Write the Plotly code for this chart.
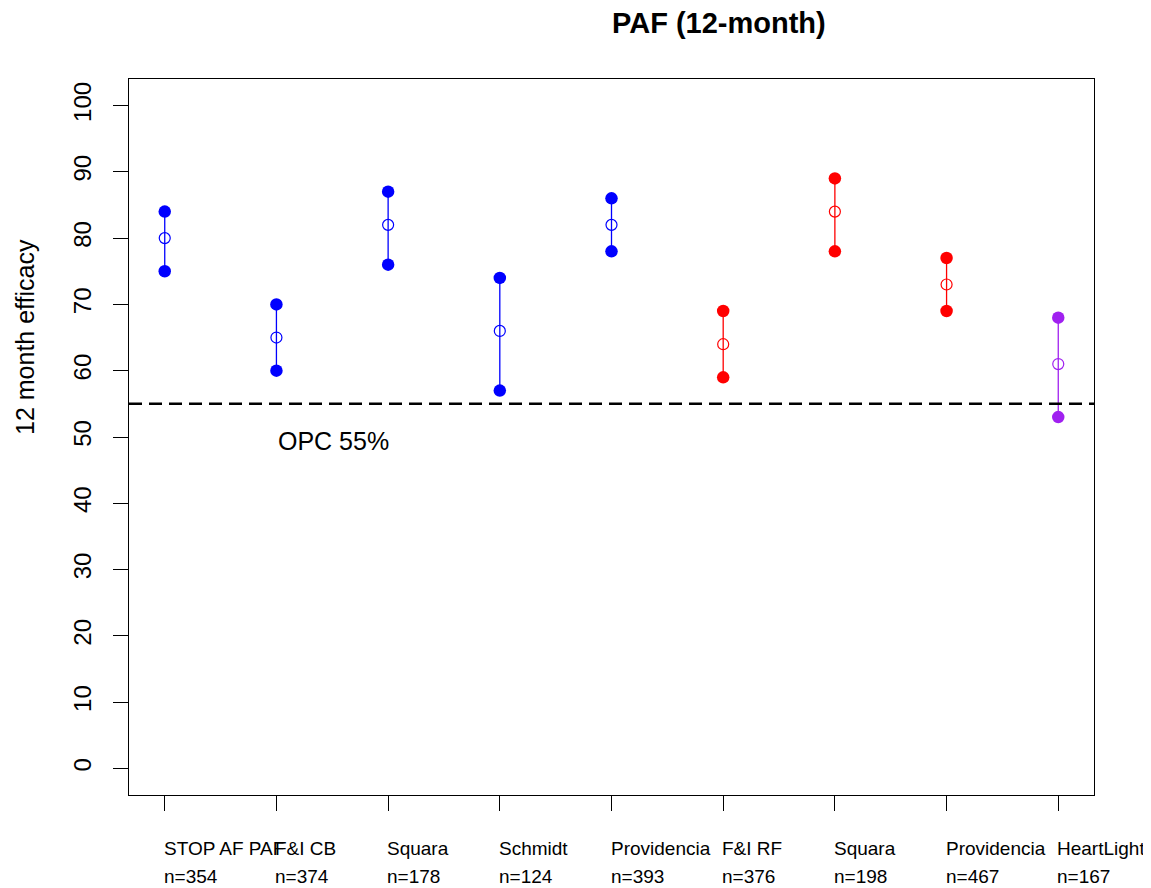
import plotly.graph_objects as go

# ---- data ----
studies = ["STOP AF PAF", "F&I CB", "Squara", "Schmidt", "Providencia",
           "F&I RF", "Squara", "Providencia", "HeartLight"]
n_labels = ["n=354", "n=374", "n=178", "n=124", "n=393",
            "n=376", "n=198", "n=467", "n=167"]
efficacy = [80, 65, 82, 66, 82, 64, 84, 73, 61]
ci_lower = [75, 60, 76, 57, 78, 59, 78, 69, 53]
ci_upper = [84, 70, 87, 74, 86, 69, 89, 77, 68]
groups = ["blue", "blue", "blue", "blue", "blue", "red", "red", "red", "purple"]
y_ticks = [0, 10, 20, 30, 40, 50, 60, 70, 80, 90, 100]
opc_value = 55
opc_label = "OPC 55%"

color_map = {"blue": "#0000FF", "red": "#FF0000", "purple": "#A020F0"}
FONT = "Liberation Sans, Arial, sans-serif"

# page has an 8px body margin; size the figure so it fills the window
OFF = 8
W, H = 1151 - OFF, 888 - OFF
L, R, T, B = 129 - OFF, 57, 79 - OFF, 93
pw, ph = W - L - R, H - T - B


def px_to_paper(sx, sy):
    """screen pixel (from window top-left) -> paper coords"""
    fx, fy = sx - OFF, sy - OFF
    return (fx - L) / pw, (H - fy - B) / ph


fig = go.Figure()
positions = list(range(1, len(studies) + 1))

for i, pos in enumerate(positions):
    c = color_map[groups[i]]
    fig.add_trace(go.Scatter(
        x=[pos, pos], y=[ci_lower[i], ci_upper[i]], mode="lines",
        line=dict(color=c, width=1.3), showlegend=False, hoverinfo="skip"))
    fig.add_trace(go.Scatter(
        x=[pos, pos], y=[ci_lower[i], ci_upper[i]], mode="markers",
        marker=dict(symbol="circle", size=12.5, color=c), showlegend=False))
    fig.add_trace(go.Scatter(
        x=[pos], y=[efficacy[i]], mode="markers",
        marker=dict(symbol="circle-open", size=11, color=c, line=dict(width=1.2)),
        showlegend=False))

# OPC dashed line
fig.add_trace(go.Scatter(
    x=[0.68, 9.32], y=[opc_value, opc_value], mode="lines",
    line=dict(color="black", width=2.5, dash="13px,7px"),
    showlegend=False, hoverinfo="skip"))

annotations = []
annotations.append(dict(x=2, y=49.4, xref="x", yref="y", text=opc_label,
                        showarrow=False, xanchor="left", yanchor="middle",
                        font=dict(family=FONT, size=25, color="black")))
for i, pos in enumerate(positions):
    annotations.append(dict(x=pos, y=0, xref="x", yref="paper", text=studies[i],
                            showarrow=False, xanchor="left", yanchor="middle",
                            yshift=-53, xshift=-3,
                            font=dict(family=FONT, size=19, color="black")))
    annotations.append(dict(x=pos, y=0, xref="x", yref="paper", text=n_labels[i],
                            showarrow=False, xanchor="left", yanchor="middle",
                            yshift=-81.5, xshift=-3,
                            font=dict(family=FONT, size=19, color="black")))
# title
tx, ty = px_to_paper(719, 23)
annotations.append(dict(x=tx, y=ty, xref="paper", yref="paper",
                        text="<b>PAF (12-month)</b>", showarrow=False,
                        xanchor="center", yanchor="middle",
                        font=dict(family=FONT, size=29, color="black")))
# y axis title
ax_, ay_ = px_to_paper(25, 337)
annotations.append(dict(x=ax_, y=ay_, xref="paper", yref="paper",
                        text="12 month efficacy", showarrow=False, textangle=-90,
                        xanchor="center", yanchor="middle",
                        font=dict(family=FONT, size=25, color="black")))

fig.update_layout(
    width=W, height=H,
    margin=dict(l=L, r=R, t=T, b=B, autoexpand=False),
    paper_bgcolor="white", plot_bgcolor="white",
    font=dict(family=FONT, color="black"),
    annotations=annotations,
    xaxis=dict(range=[0.68, 9.32], tickvals=positions, showticklabels=False,
               ticks="outside", ticklen=15, tickwidth=1, tickcolor="black",
               showline=True, linecolor="black", linewidth=1, mirror=True,
               showgrid=False, zeroline=False),
    yaxis=dict(range=[-4, 104], tickvals=y_ticks, ticktext=[str(v) for v in y_ticks],
               tickangle=-90, ticks="outside", ticklen=15, tickwidth=1,
               tickcolor="black", tickfont=dict(family=FONT, size=24, color="black"),
               ticklabelstandoff=12,
               showline=True, linecolor="black", linewidth=1, mirror=True,
               showgrid=False, zeroline=False),
)

fig.write_html("out.html")
